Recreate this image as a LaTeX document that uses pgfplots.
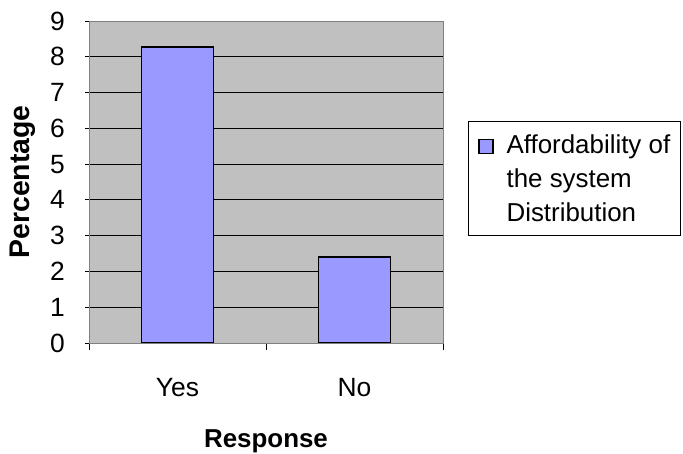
\documentclass[border=0pt]{standalone}
\usepackage{pgfplots}
\pgfplotsset{compat=1.18}
\usepackage{fontspec}
\setmainfont{Liberation Sans}
\definecolor{barfill}{HTML}{9999FF}
\definecolor{plotbg}{HTML}{C0C0C0}
\definecolor{frame}{HTML}{808080}
\begin{document}
\begin{tikzpicture}
\useasboundingbox (0,0) rectangle (683bp,454bp);
\begin{axis}[
  at={(89bp,111bp)}, anchor=south west,
  scale only axis, width=354bp, height=322bp,
  xmin=-0.5, xmax=1.5, ymin=0, ymax=9,
  ytick={0,1,...,8},
  extra y ticks={9}, extra y tick style={grid=none},
  xtick={0,1}, xticklabels={Yes,No},
  minor xtick={-0.5,0.5,1.5},
  xtick pos=bottom, ytick pos=left,
  tick align=outside,
  major tick length=4bp, minor tick length=7bp,
  major x tick style={draw=none},
  minor x tick style={black, line width=0.8pt},
  major y tick style={black, line width=0.8pt},
  ymajorgrids, major grid style={black, line width=0.8pt},
  axis line style={frame, line width=1pt},
  axis background/.style={fill=plotbg},
  tick label style={font=\fontsize{26.5}{30}\selectfont},
  /pgf/number format/assume math mode=true,
  yticklabel style={inner sep=0pt, anchor=east},
  yticklabel shift=20bp,
  xticklabel style={inner sep=0pt, anchor=north},
  xticklabel shift=31bp,
  ylabel={\bfseries Percentage},
  xlabel={\bfseries Response},
  ylabel style={font=\fontsize{28.5}{32}\selectfont, at={(axis description cs:-0.1876,0.5)}, anchor=center},
  xlabel style={font=\fontsize{26}{30}\selectfont, at={(axis description cs:0.5,-0.304)}, anchor=center},
  legend style={at={(axis description cs:1.0706,0.689)}, anchor=north west,
    draw=black, line width=0.8pt, font=\fontsize{26}{34}\selectfont,
    nodes={inner sep=0pt, text depth=, text height=},
    cells={anchor=base west}, column sep=13bp,
    inner xsep=10bp, inner ysep=13.5bp},
  legend image code/.code={\draw[#1, line width=1.2pt] (0bp,0bp) rectangle (14bp,14bp);},
]
\addplot[ybar, bar width=72bp, bar shift=0pt, fill=barfill, draw=black, line width=1.5pt]
  coordinates {(0,8.27) (1,2.41)};
\addlegendentry{\vtop{\hbox{Affordability of}\hbox{the system}\hbox{Distribution}}}
\end{axis}
\end{tikzpicture}
\end{document}
